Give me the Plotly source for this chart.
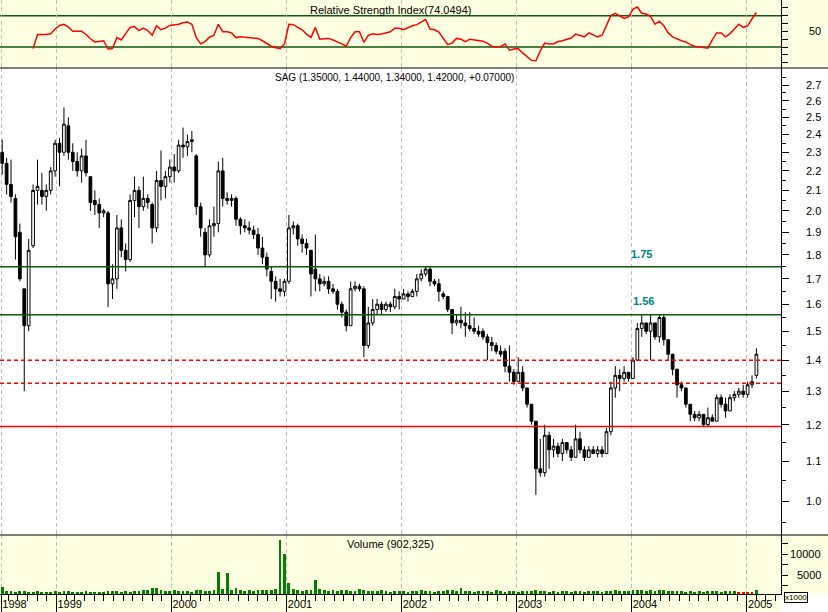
import math
import pandas as pd
import plotly.graph_objects as go
from plotly.subplots import make_subplots

# ---------------- data (bi-weekly periods) ----------------
period_dates = pd.date_range("1998-07-13", periods=172, freq="14D")

price_open = [
    2.30, 2.24, 2.13, 2.06, 1.90, 1.66, 1.52, 1.84, 2.10, 2.10,
    2.07, 2.10, 2.20, 2.35, 2.30, 2.45, 2.30, 2.25, 2.20, 2.28,
    2.17, 2.05, 2.03, 1.99, 1.99, 1.68, 1.70, 1.92, 1.82, 1.78,
    2.05, 2.10, 2.02, 2.06, 2.03, 1.92, 2.15, 2.12, 2.17, 2.22,
    2.20, 2.34, 2.33, 2.36, 2.28, 2.02, 1.90, 1.80, 1.93, 1.94,
    2.20, 2.06, 2.05, 2.06, 1.96, 1.93, 1.92, 1.91, 1.89, 1.83,
    1.79, 1.73, 1.69, 1.66, 1.65, 1.69, 1.92, 1.93, 1.87, 1.85,
    1.82, 1.74, 1.70, 1.68, 1.69, 1.66, 1.65, 1.60, 1.57, 1.52,
    1.66, 1.67, 1.66, 1.45, 1.53, 1.58, 1.60, 1.58, 1.60, 1.59,
    1.63, 1.62, 1.64, 1.63, 1.65, 1.70, 1.72, 1.74, 1.69, 1.68,
    1.64, 1.63, 1.58, 1.53, 1.54, 1.53, 1.52, 1.51, 1.50, 1.50,
    1.48, 1.46, 1.45, 1.43, 1.43, 1.38, 1.36, 1.33, 1.36, 1.31,
    1.26, 1.21, 1.08, 1.07, 1.17, 1.13, 1.14, 1.12, 1.15, 1.13,
    1.11, 1.16, 1.13, 1.11, 1.13, 1.12, 1.13, 1.12, 1.18, 1.31,
    1.35, 1.34, 1.36, 1.34, 1.40, 1.51, 1.53, 1.50, 1.53, 1.48,
    1.55, 1.47, 1.42, 1.37, 1.32, 1.31, 1.26, 1.23, 1.22, 1.23,
    1.20, 1.22, 1.21, 1.28, 1.26, 1.24, 1.28, 1.29, 1.30, 1.29,
    1.32, 1.35,
]
price_high = [
    2.37, 2.27, 2.26, 2.08, 1.94, 1.66, 1.87, 2.13, 2.26, 2.19,
    2.13, 2.22, 2.37, 2.38, 2.56, 2.50, 2.35, 2.30, 2.32, 2.37,
    2.17, 2.10, 2.06, 2.01, 2.00, 1.76, 1.98, 1.96, 1.85, 2.08,
    2.17, 2.12, 2.17, 2.08, 2.04, 2.20, 2.31, 2.20, 2.26, 2.29,
    2.37, 2.44, 2.40, 2.42, 2.29, 2.04, 1.92, 1.96, 2.02, 2.25,
    2.27, 2.09, 2.08, 2.07, 1.97, 1.96, 1.95, 1.93, 1.92, 1.88,
    1.81, 1.75, 1.71, 1.70, 1.70, 1.98, 1.95, 1.94, 1.89, 1.87,
    1.82, 1.89, 1.72, 1.71, 1.71, 1.68, 1.66, 1.61, 1.58, 1.69,
    1.69, 1.68, 1.67, 1.59, 1.62, 1.62, 1.61, 1.61, 1.61, 1.66,
    1.65, 1.66, 1.65, 1.66, 1.72, 1.74, 1.75, 1.75, 1.70, 1.70,
    1.65, 1.63, 1.58, 1.56, 1.59, 1.57, 1.57, 1.55, 1.52, 1.51,
    1.49, 1.48, 1.46, 1.45, 1.44, 1.45, 1.37, 1.41, 1.38, 1.31,
    1.26, 1.21, 1.16, 1.20, 1.18, 1.16, 1.15, 1.16, 1.15, 1.14,
    1.20, 1.18, 1.14, 1.14, 1.14, 1.14, 1.14, 1.19, 1.33, 1.38,
    1.37, 1.38, 1.36, 1.41, 1.53, 1.56, 1.53, 1.56, 1.53, 1.56,
    1.56, 1.47, 1.42, 1.37, 1.33, 1.31, 1.26, 1.24, 1.24, 1.23,
    1.25, 1.23, 1.29, 1.29, 1.28, 1.29, 1.30, 1.31, 1.32, 1.33,
    1.35, 1.44,
]
price_low = [
    2.18, 2.08, 2.04, 1.78, 1.69, 1.30, 1.50, 1.83, 2.03, 2.03,
    2.00, 2.08, 2.17, 2.12, 2.28, 2.26, 2.20, 2.17, 2.14, 2.17,
    2.00, 1.98, 1.92, 1.97, 1.59, 1.62, 1.66, 1.79, 1.73, 1.77,
    1.97, 1.92, 2.00, 2.01, 1.85, 1.90, 2.05, 2.06, 2.14, 2.14,
    2.19, 2.27, 2.28, 2.30, 1.98, 1.88, 1.75, 1.79, 1.88, 1.90,
    2.02, 2.03, 2.02, 1.93, 1.89, 1.90, 1.89, 1.87, 1.80, 1.76,
    1.71, 1.62, 1.61, 1.63, 1.63, 1.68, 1.89, 1.84, 1.81, 1.80,
    1.63, 1.65, 1.65, 1.67, 1.64, 1.64, 1.58, 1.55, 1.50, 1.52,
    1.65, 1.65, 1.41, 1.44, 1.52, 1.56, 1.56, 1.57, 1.57, 1.58,
    1.58, 1.62, 1.61, 1.63, 1.63, 1.69, 1.71, 1.67, 1.67, 1.61,
    1.62, 1.57, 1.49, 1.52, 1.51, 1.48, 1.50, 1.49, 1.48, 1.47,
    1.40, 1.43, 1.42, 1.41, 1.36, 1.33, 1.32, 1.33, 1.30, 1.25,
    1.20, 1.015, 1.06, 1.06, 1.08, 1.11, 1.11, 1.10, 1.12, 1.10,
    1.11, 1.12, 1.10, 1.11, 1.12, 1.11, 1.11, 1.12, 1.17, 1.28,
    1.30, 1.33, 1.33, 1.34, 1.40, 1.48, 1.49, 1.40, 1.47, 1.46,
    1.45, 1.40, 1.35, 1.28, 1.30, 1.25, 1.21, 1.21, 1.21, 1.195,
    1.195, 1.21, 1.21, 1.25, 1.22, 1.24, 1.27, 1.28, 1.28, 1.28,
    1.31, 1.34,
]
price_close = [
    2.24, 2.13, 2.07, 1.88, 1.70, 1.52, 1.82, 2.10, 2.12, 2.07,
    2.10, 2.20, 2.35, 2.30, 2.46, 2.30, 2.25, 2.20, 2.28, 2.19,
    2.04, 2.03, 1.99, 2.00, 1.68, 1.70, 1.92, 1.82, 1.78, 2.05,
    2.10, 2.02, 2.06, 2.04, 1.92, 2.15, 2.12, 2.17, 2.22, 2.20,
    2.34, 2.33, 2.36, 2.37, 2.02, 1.92, 1.80, 1.93, 1.94, 2.20,
    2.06, 2.05, 2.06, 1.96, 1.93, 1.92, 1.91, 1.89, 1.83, 1.79,
    1.74, 1.69, 1.66, 1.65, 1.69, 1.92, 1.93, 1.87, 1.85, 1.83,
    1.72, 1.70, 1.68, 1.69, 1.66, 1.65, 1.60, 1.57, 1.52, 1.66,
    1.67, 1.66, 1.45, 1.53, 1.58, 1.60, 1.58, 1.60, 1.59, 1.63,
    1.62, 1.64, 1.63, 1.65, 1.70, 1.72, 1.74, 1.69, 1.68, 1.65,
    1.63, 1.58, 1.53, 1.54, 1.53, 1.52, 1.51, 1.50, 1.49, 1.48,
    1.46, 1.45, 1.43, 1.42, 1.38, 1.36, 1.33, 1.36, 1.31, 1.26,
    1.21, 1.08, 1.07, 1.17, 1.13, 1.14, 1.12, 1.15, 1.13, 1.11,
    1.16, 1.13, 1.11, 1.13, 1.12, 1.13, 1.12, 1.18, 1.31, 1.35,
    1.34, 1.36, 1.34, 1.40, 1.51, 1.53, 1.50, 1.53, 1.48, 1.55,
    1.47, 1.42, 1.37, 1.32, 1.31, 1.26, 1.23, 1.22, 1.23, 1.20,
    1.22, 1.21, 1.28, 1.26, 1.24, 1.28, 1.29, 1.30, 1.29, 1.32,
    1.33, 1.42,
]

rsi_start = 7  # RSI starts at period 7
rsi_values = [
    28, 46, 46, 46, 47, 53, 57.5, 59, 55.5, 50,
    50, 50, 46, 40.5, 36.5, 37.5, 38, 27.5, 28, 42,
    39, 47, 55, 56, 51, 54, 51, 45, 57, 52,
    54, 57.5, 58, 59, 61, 62, 59, 42, 34, 37,
    42.5, 45, 59, 49.5, 49.5, 48, 42, 43, 42.5, 42,
    41.5, 41, 38, 34.5, 31, 29, 28, 34, 59, 58.5,
    55, 52, 46.5, 42, 55, 40, 40.5, 41, 39, 37,
    34, 31, 42, 49.5, 49.5, 36, 45, 47, 46, 46.5,
    48.5, 49.5, 54, 54, 52, 55, 57, 58.5, 61.5, 65,
    53, 52, 49, 41, 33, 35, 41, 40, 37, 40,
    39, 38, 37.5, 35, 31, 30, 30.5, 34, 26, 27.5,
    28, 22.5, 18, 13, 12.5, 25, 35, 34, 34, 37,
    38, 40, 41.5, 46.5, 45, 43, 48, 45, 43, 45,
    57, 70, 73, 70, 66.5, 68.5, 78, 81, 73, 72,
    69, 59, 63, 57, 48, 43, 40, 38, 36.5, 33,
    31, 30, 29.5, 28.5, 39, 48, 48, 43, 47, 53,
    59, 55, 57, 66, 74.05,
]

volume_k = [
    2200, 1300, 1100, 1050, 1150, 1250, 1050, 950, 1150, 1050,
    950, 1050, 1150, 1050, 1250, 1150, 1050, 950, 1050, 1150,
    1050, 950, 1050, 950, 1150, 1250, 1150, 1050, 1150, 1050,
    1150, 1250, 1350, 1550, 1850, 2000, 1450, 1250, 1150, 1350,
    1250, 1150, 1250, 1050, 1350, 1450, 1250, 1150, 1550, 5600,
    1650, 5500, 1550, 2000, 1450, 1250, 1350, 1250, 1450, 1550,
    1350, 1450, 1650, 13450, 10100, 3000, 1750, 1450, 1250, 1350,
    1550, 3700, 1650, 1350, 1250, 1450, 1250, 1350, 1450, 1250,
    1150, 1700, 1350, 1250, 1150, 1250, 1450, 1150, 1050, 1150,
    1250, 1150, 1050, 1150, 1250, 1350, 1150, 1250, 1050, 1150,
    1250, 1350, 1450, 1250, 2000, 1150, 1250, 1050, 1150, 1250,
    1150, 1050, 1500, 1150, 1050, 1150, 1250, 1050, 1150, 1250,
    1150, 1350, 1250, 1150, 1050, 1150, 1050, 1150, 1250, 1050,
    1150, 1250, 1050, 1150, 1250, 1150, 1050, 1150, 1250, 1350,
    1250, 1150, 1250, 1350, 1450, 1350, 1250, 1450, 1250, 1500,
    1350, 1250, 1150, 1250, 1150, 1050, 1150, 1050, 1150, 1050,
    1150, 1250, 1150, 1050, 1150, 1250, 1150, 1050, 1050, 1050,
    1050, 1350,
]

price_ticks = [1.0, 1.1, 1.2, 1.3, 1.4, 1.5, 1.6, 1.7, 1.8, 1.9,
               2.0, 2.1, 2.2, 2.3, 2.4, 2.5, 2.6, 2.7]
price_minor_ticks = [0.95, 1.05, 1.15, 1.25, 1.35, 1.45, 1.55, 1.65, 1.75,
                     1.85, 1.95, 2.05, 2.15, 2.25, 2.35, 2.45, 2.55, 2.65, 2.75]
rsi_ticks = [10, 20, 30, 40, 50, 60, 70, 80]
rsi_labeled = [50]
volume_ticks = [2500, 5000, 7500, 10000, 12500]
volume_labeled = [5000, 10000]
year_tick_dates = ["1998-07-10", "1999-01-01", "2000-01-01", "2001-01-01",
                   "2002-01-01", "2003-01-01", "2004-01-01", "2005-01-01"]
year_labels = ["1998", "1999", "2000", "2001", "2002", "2003", "2004", "2005"]

green_levels = [1.75, 1.56]
red_dashed_levels = [1.40, 1.325]
red_solid_levels = [1.195]
rsi_levels = [70, 30]

title_rsi = "Relative Strength Index(74.0494)"
title_price = "SAG (1.35000, 1.44000, 1.34000, 1.42000, +0.07000)"
title_volume = "Volume (902,325)"

# ---------------- layout geometry ----------------
W, H = 828, 612
ML, MR, MT, MB = 0, 47, 0, 18
PW, PH = W - ML - MR, H - MT - MB        # 781 x 594


def py(px):  # pixel y (from top) -> paper y
    return (PH - (px - MT)) / PH


def pxx(px):  # pixel x -> paper x
    return (px - ML) / PW


rsi_dom = [py(68), 1.0]
price_dom = [py(535), py(68)]
vol_dom = [0.0, py(535)]

YELLOW = "#FFFFE1"
GREEN_LINE = "#0A5A0A"
FONT = "Liberation Sans, Arial, sans-serif"

fig = make_subplots(rows=3, cols=1, shared_xaxes=True, vertical_spacing=0)

fig.add_trace(go.Scatter(x=period_dates[rsi_start:], y=rsi_values, mode="lines",
                         line=dict(color="#FF0000", width=1.5), hoverinfo="skip"),
              row=1, col=1)

fig.add_trace(go.Candlestick(
    x=period_dates, open=price_open, high=price_high, low=price_low, close=price_close,
    increasing=dict(line=dict(color="black", width=1), fillcolor="white"),
    decreasing=dict(line=dict(color="black", width=1), fillcolor="black"),
    whiskerwidth=0, hoverinfo="skip"), row=2, col=1)

vol_colors = ["#FF0000" if 167 <= i <= 170 else "#008000" for i in range(len(volume_k))]
fig.add_trace(go.Bar(x=period_dates, y=volume_k, marker=dict(color=vol_colors, line=dict(width=0)),
                     width=9 * 86400000, hoverinfo="skip"), row=3, col=1)

x_range = ["1998-07-06", "2005-04-19"]
grid_common = dict(type="date", range=x_range, tickmode="array", tickvals=year_tick_dates,
                   showgrid=True, gridcolor="#BEBEBE", griddash="4px,3px", gridwidth=1,
                   zeroline=False, rangeslider=dict(visible=False))

fig.update_layout(
    width=W, height=H, margin=dict(l=ML, r=MR, t=MT, b=MB),
    paper_bgcolor=YELLOW, plot_bgcolor="rgba(0,0,0,0)", showlegend=False,
    font=dict(family=FONT, size=11, color="black"),
    bargap=0, boxgap=0.12,
    xaxis=dict(**grid_common, showticklabels=False, ticks=""),
    xaxis2=dict(**grid_common, showticklabels=False, ticks=""),
    xaxis3=dict(**grid_common, ticktext=year_labels, ticks="outside", ticklen=18,
                tickcolor="black", tickwidth=1, showline=True, linecolor="black", linewidth=1,
                ticklabelposition="outside right", ticklabelstandoff=0,
                tickfont=dict(family=FONT, size=11, color="black"),
                minor=dict(tickmode="linear", tick0="1998-01-01", dtick="M1", ticks="outside",
                           ticklen=6, tickcolor="black", showgrid=False)),
    yaxis=dict(domain=rsi_dom, range=[3.3, 89.9], side="right", showgrid=False, zeroline=False,
               showline=True, linecolor="black", linewidth=1, ticks="outside", ticklen=6,
               tickcolor="black", tickvals=rsi_ticks, showticklabels=False),
    yaxis2=dict(domain=price_dom, type="log", range=[math.log10(0.922), math.log10(2.813)],
                side="right", showgrid=False, zeroline=False, showline=True, linecolor="black",
                linewidth=1, ticks="outside", ticklen=7, tickcolor="black", tickvals=price_ticks,
                showticklabels=False,
                minor=dict(tickvals=price_minor_ticks, ticks="outside", ticklen=4,
                           tickcolor="black", showgrid=False)),
    yaxis3=dict(domain=vol_dom, range=[480, 14522], side="right", showgrid=False, zeroline=False,
                showline=True, linecolor="black", linewidth=1, ticks="outside", ticklen=6,
                tickcolor="black", tickvals=volume_ticks, showticklabels=False),
)

shapes = []
# backgrounds
shapes.append(dict(type="rect", xref="paper", yref="paper", x0=0, x1=1.1, y0=price_dom[0],
                   y1=price_dom[1], fillcolor="white", line=dict(width=0), layer="below"))
shapes.append(dict(type="rect", xref="paper", yref="paper", x0=1.0, x1=1.1, y0=-0.05, y1=0,
                   fillcolor="white", line=dict(width=0), layer="below"))
# panel separators
for yy in (price_dom[0], price_dom[1]):
    shapes.append(dict(type="line", xref="paper", yref="paper", x0=0, x1=1.1, y0=yy, y1=yy,
                       line=dict(color="black", width=1)))
# price levels
for lv in green_levels:
    shapes.append(dict(type="line", xref="paper", yref="y2", x0=0, x1=1, y0=lv, y1=lv,
                       line=dict(color=GREEN_LINE, width=1.5)))
for lv in red_dashed_levels:
    shapes.append(dict(type="line", xref="paper", yref="y2", x0=0, x1=1, y0=lv, y1=lv,
                       line=dict(color="#FF0000", width=1.5, dash="4px,3px")))
for lv in red_solid_levels:
    shapes.append(dict(type="line", xref="paper", yref="y2", x0=0, x1=1, y0=lv, y1=lv,
                       line=dict(color="#FF0000", width=1.5)))
for lv in rsi_levels:
    shapes.append(dict(type="line", xref="paper", yref="y", x0=0, x1=1, y0=lv, y1=lv,
                       line=dict(color=GREEN_LINE, width=1.5), layer="below"))
fig.update_layout(shapes=shapes)

ann = []
ann.append(dict(text=title_rsi, xref="paper", yref="paper", x=pxx(390), y=py(9.5),
                xanchor="center", yanchor="middle", showarrow=False, font=dict(size=11)))
ann.append(dict(text=title_price, xref="paper", yref="paper", x=pxx(395), y=py(78),
                xanchor="center", yanchor="middle", showarrow=False, font=dict(size=10)))
ann.append(dict(text=title_volume, xref="paper", yref="paper", x=pxx(391), y=py(544),
                xanchor="center", yanchor="middle", showarrow=False, font=dict(size=11)))
for lv, xp, ys in ((1.75, 641, 13), (1.56, 643, 14)):
    ann.append(dict(text="<b>%.2f</b>" % lv, xref="paper", yref="y2", x=pxx(xp),
                    y=math.log10(lv), yshift=ys, xanchor="center", yanchor="middle",
                    showarrow=False, font=dict(size=11, color="#008080")))
xr = pxx(823)
for v in price_ticks:
    ann.append(dict(text="%.1f" % v, xref="paper", yref="y2", x=xr, y=math.log10(v),
                    xanchor="right", yanchor="middle", showarrow=False, font=dict(size=11)))
for v in rsi_labeled:
    ann.append(dict(text=str(v), xref="paper", yref="y", x=xr, y=v, xanchor="right",
                    yanchor="middle", showarrow=False, font=dict(size=11)))
for v in volume_labeled:
    ann.append(dict(text=str(v), xref="paper", yref="y3", x=xr, y=v, xanchor="right",
                    yanchor="middle", showarrow=False, font=dict(size=11)))
ann.append(dict(text="x1000", xref="paper", yref="paper", x=pxx(796), y=py(597.5),
                xanchor="center", yanchor="middle", showarrow=False, font=dict(size=8),
                bordercolor="black", borderwidth=1, borderpad=0, bgcolor=YELLOW))
fig.update_layout(annotations=ann)

fig.write_html("out.html", config={"displayModeBar": False},
               post_script="document.body.style.margin='0';document.body.style.overflow='hidden';")
